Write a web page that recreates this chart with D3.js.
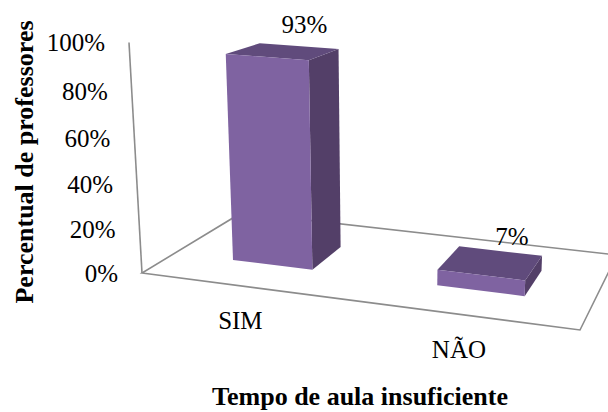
<!DOCTYPE html>
<html>
<head>
<meta charset="utf-8">
<script src="https://cdn.jsdelivr.net/npm/d3@7"></script>
<style>
  html, body { margin: 0; padding: 0; background: #fff; }
  svg { display: block; }
</style>
</head>
<body>
<svg id="chart" width="608" height="412" font-family="'Liberation Serif', 'Times New Roman', 'DejaVu Serif', serif"></svg>
<script>
// Data
const categories = ["SIM", "NÃO"];
const values = [93, 7];
const yTicks = [0, 20, 40, 60, 80, 100];
const yTickLabels = ["0%", "20%", "40%", "60%", "80%", "100%"];
const yTitle = "Percentual de professores";
const xTitle = "Tempo de aula insuficiente";

const svg = d3.select("#chart");

// --- Perspective projection of the 3D plot box ---------------------------
// Floor corners on screen (front-left, front-right, back-right, back-left).
const floorQuad = [[142, 273], [580, 330], [617, 255], [241.6, 212.7]];
// Vanishing point of vertical edges and the screen point of the axis top.
const vertVP = [386, 4600];
const axisTop = [129, 42.4];

// Unit-square -> quad homography for the floor plane (X across, Z into depth).
function squareToQuad(q) {
  const [p0, p1, p2, p3] = q;
  const dx1 = p1[0] - p2[0], dy1 = p1[1] - p2[1];
  const dx2 = p3[0] - p2[0], dy2 = p3[1] - p2[1];
  const dx3 = p0[0] - p1[0] + p2[0] - p3[0];
  const dy3 = p0[1] - p1[1] + p2[1] - p3[1];
  const den = dx1 * dy2 - dx2 * dy1;
  const g = (dx3 * dy2 - dx2 * dy3) / den;
  const h = (dx1 * dy3 - dx3 * dy1) / den;
  return {
    a: p1[0] - p0[0] + g * p1[0], b: p3[0] - p0[0] + h * p3[0], c: p0[0],
    d: p1[1] - p0[1] + g * p1[1], e: p3[1] - p0[1] + h * p3[1], f: p0[1],
    g, h
  };
}
const H = squareToQuad(floorQuad);
// Weight of the vertical column so that height 1 on the axis lands on axisTop.
const k = (axisTop[0] - H.c) / (vertVP[0] - axisTop[0]);

function project(X, Y, Z) {
  const w = H.g * X + H.h * Z + 1 + k * Y;
  const u = H.a * X + H.b * Z + H.c + k * vertVP[0] * Y;
  const v = H.d * X + H.e * Z + H.f + k * vertVP[1] * Y;
  return [u / w, v / w];
}

// --- Scales ---------------------------------------------------------------
const x = d3.scaleBand().domain(categories).range([0, 1])
  .paddingInner(0.6).paddingOuter(0.3);
const y = d3.scaleLinear().domain([0, 100]).range([0, 1]);
const zFront = 0.3, zBack = 0.65;

const lineGray = "#8c8c8c";
const poly = pts => "M" + pts.map(p => p.join(",")).join("L") + "Z";

// Floor outline
svg.append("path")
  .attr("d", poly([project(0, 0, 0), project(1, 0, 0), project(1, 0, 1), project(0, 0, 1)]))
  .attr("fill", "none")
  .attr("stroke", lineGray)
  .attr("stroke-width", 1.6)
  .attr("stroke-linejoin", "miter");

// Vertical value axis line
const a0 = project(0, y(0), 0), a1 = project(0, y(100), 0);
svg.append("line")
  .attr("x1", a0[0]).attr("y1", a0[1]).attr("x2", a1[0]).attr("y2", a1[1])
  .attr("stroke", lineGray).attr("stroke-width", 1.6);

// Tick labels along the axis
svg.append("g").selectAll("text")
  .data(yTicks)
  .join("text")
  .attr("x", d => project(0, y(d), 0)[0] - 24)
  .attr("y", d => project(0, y(d), 0)[1] + 9)
  .attr("text-anchor", "end")
  .attr("font-size", 25)
  .text((d, i) => yTickLabels[i]);

// Bars: front, right side and top faces
const colFront = "#7f63a1", colSide = "#533f68", colTop = "#604b7c";
const bars = svg.append("g");
categories.forEach((c, i) => {
  const x0 = x(c), x1 = x(c) + x.bandwidth();
  const h = y(values[i]);
  const g = bars.append("g");
  g.append("path")
    .attr("d", poly([project(x1, 0, zFront), project(x1, 0, zBack), project(x1, h, zBack), project(x1, h, zFront)]))
    .attr("fill", colSide);
  g.append("path")
    .attr("d", poly([project(x0, h, zFront), project(x1, h, zFront), project(x1, h, zBack), project(x0, h, zBack)]))
    .attr("fill", colTop);
  g.append("path")
    .attr("d", poly([project(x0, 0, zFront), project(x1, 0, zFront), project(x1, h, zFront), project(x0, h, zFront)]))
    .attr("fill", colFront);
});

// Value labels above the bars
const topCenter = (c, i) => project(x(c) + x.bandwidth() / 2, y(values[i]), (zFront + zBack) / 2);
svg.append("g").selectAll("text")
  .data(categories)
  .join("text")
  .attr("x", (c, i) => topCenter(c, i)[0] + 21)
  .attr("y", (c, i) => topCenter(c, i)[1] - 18)
  .attr("text-anchor", "middle")
  .attr("font-size", 25)
  .text((c, i) => values[i] + "%");

// Category labels below the front edge of the floor
svg.append("g").selectAll("text")
  .data(categories)
  .join("text")
  .attr("x", c => project(x(c) + x.bandwidth() / 2, 0, 0)[0] - 3)
  .attr("y", c => project(x(c) + x.bandwidth() / 2, 0, 0)[1] + 43)
  .attr("text-anchor", "middle")
  .attr("font-size", 25)
  .text(c => c);

// Axis titles
svg.append("text")
  .attr("x", 360).attr("y", 405)
  .attr("text-anchor", "middle")
  .attr("font-size", 26)
  .attr("font-weight", "bold")
  .text(xTitle);

svg.append("text")
  .attr("transform", "translate(33,162) rotate(-90)")
  .attr("text-anchor", "middle")
  .attr("font-size", 26)
  .attr("font-weight", "bold")
  .text(yTitle);
</script>
</body>
</html>
